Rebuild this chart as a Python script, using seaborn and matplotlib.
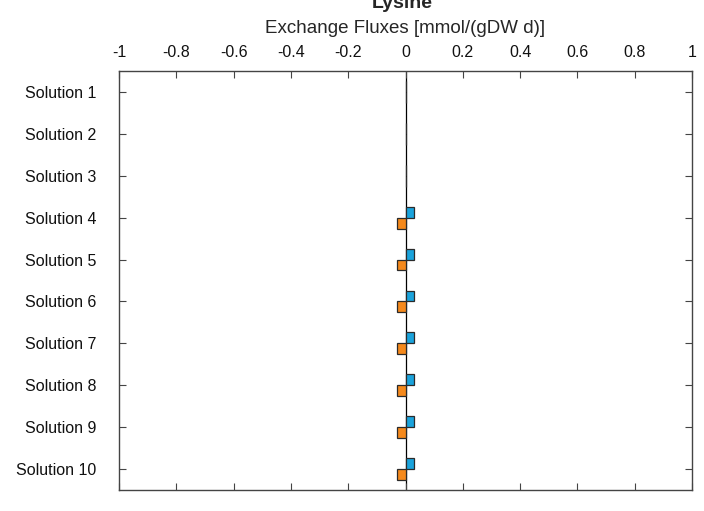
import matplotlib
matplotlib.use("Agg")
import matplotlib.pyplot as plt
import seaborn as sns
import pandas as pd

solutions = [f"Solution {i}" for i in range(1, 11)]
upper_flux = [0, 0, 0, 0.028, 0.028, 0.028, 0.028, 0.028, 0.028, 0.028]
lower_flux = [0, 0, 0, -0.03, -0.03, -0.03, -0.03, -0.03, -0.03, -0.03]
xticks = [-1, -0.8, -0.6, -0.4, -0.2, 0, 0.2, 0.4, 0.6, 0.8, 1]
xtick_labels = ["-1", "-0.8", "-0.6", "-0.4", "-0.2", "0", "0.2", "0.4", "0.6", "0.8", "1"]

df = pd.DataFrame({
    "solution": solutions * 2,
    "flux": upper_flux + lower_flux,
    "series": ["upper"] * len(solutions) + ["lower"] * len(solutions),
})

sns.set_style("white")
plt.rcParams["font.family"] = ["Liberation Sans", "DejaVu Sans"]

fig = plt.figure(figsize=(7.04, 5.11), dpi=100)
ax = fig.add_axes([119 / 704, 1 - 490 / 511, (692 - 119) / 704, (490 - 71) / 511])

sns.barplot(data=df, x="flux", y="solution", hue="series", orient="h",
            palette={"upper": "#1aa3dc", "lower": "#f5891c"}, saturation=1,
            width=0.52, edgecolor="#2a2a2a", linewidth=0.9, legend=False, ax=ax)

ax.axvline(0, color="black", linewidth=0.9, zorder=0)
ax.set_xlim(-1, 1)
ax.set_ylim(9.5, -0.5)
ax.set_xticks(xticks)
ax.set_xticklabels(xtick_labels)
ax.xaxis.tick_top()
ax.xaxis.set_label_position("top")
ax.set_xlabel("Exchange Fluxes [mmol/(gDW d)]", fontsize=13.5, labelpad=8.5)
ax.set_ylabel("")
ax.tick_params(axis="both", which="both", direction="in", length=5, width=0.8,
               colors="#444444", labelcolor="#111111", labelsize=11.5,
               top=True, bottom=True, left=True, right=True, pad=16.5)
ax.tick_params(axis="x", pad=8)
for sp in ax.spines.values():
    sp.set_visible(True)
    sp.set_color("#444444")
    sp.set_linewidth(1.0)

fig.text(402 / 704, 1 - 8 / 511, "Lysine", ha="center", va="baseline",
         fontsize=14, fontweight="bold")

fig.savefig("out.png", dpi=100)
